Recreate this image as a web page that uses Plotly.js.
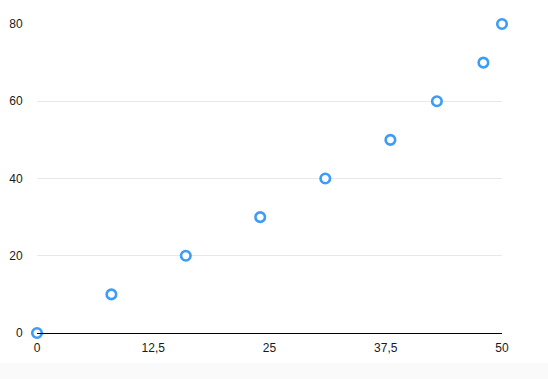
<!DOCTYPE html>
<html>
<head>
<meta charset="utf-8">
<script src="https://cdn.plot.ly/plotly-3.0.1.min.js"></script>
<style>
  html, body { margin: 0; padding: 0; background: #ffffff; }
  #chart { width: 548px; height: 363px; }
  #strip { width: 548px; height: 16px; background: #fafafa; }
</style>
</head>
<body>
<div id="chart"></div>
<div id="strip"></div>
<script>
const xValues = [0, 8, 16, 24, 31, 38, 43, 48, 50];
const yValues = [0, 10, 20, 30, 40, 50, 60, 70, 80];
const xTicks = [0, 12.5, 25, 37.5, 50];
const yTicks = [0, 20, 40, 60, 80];

const trace = {
  x: xValues,
  y: yValues,
  type: 'scatter',
  mode: 'markers',
  cliponaxis: false,
  hoverinfo: 'none',
  marker: {
    symbol: 'circle',
    size: 9.5,
    color: '#ffffff',
    line: { color: '#3d9cf5', width: 2.6 }
  }
};

const layout = {
  width: 548,
  height: 363,
  margin: { l: 37, r: 46, t: 24, b: 30 },
  paper_bgcolor: '#ffffff',
  plot_bgcolor: '#ffffff',
  separators: ',.',
  showlegend: false,
  font: { family: 'Liberation Sans, Arial, sans-serif', size: 12, color: '#1a1a1a' },
  xaxis: {
    range: [0, 50],
    tickvals: xTicks,
    ticktext: xTicks.map(v => String(v).replace('.', ',')),
    showgrid: false,
    zeroline: false,
    showline: true,
    linecolor: '#000000',
    linewidth: 1.2,
    ticks: 'outside',
    ticklen: 3,
    tickcolor: 'rgba(0,0,0,0)'
  },
  yaxis: {
    range: [0, 80],
    tickvals: yTicks,
    showgrid: true,
    gridcolor: '#e8e8e8',
    gridwidth: 1,
    zeroline: false,
    showline: false,
    ticks: 'outside',
    ticklen: 11,
    tickcolor: 'rgba(0,0,0,0)'
  }
};

Plotly.newPlot('chart', [trace], layout, { displayModeBar: false, staticPlot: true });
</script>
</body>
</html>
